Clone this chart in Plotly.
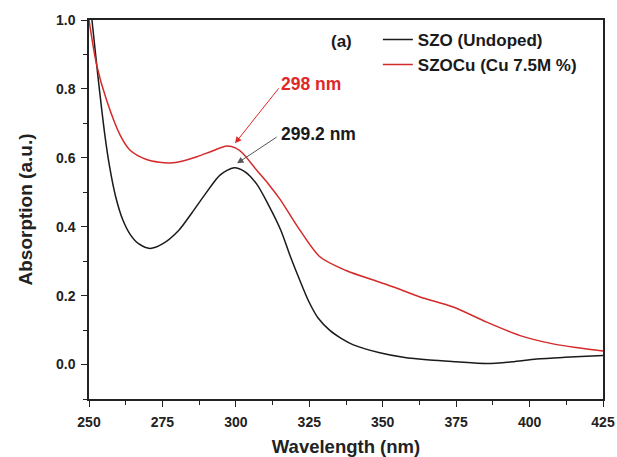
import plotly.graph_objects as go

# SZO (Undoped)
szo_wl = [251, 253, 255.4, 257, 259, 261.5, 264, 267, 270.8, 275, 280.6, 285, 289.7, 294.6, 299.4,
          303, 307, 311, 315.3, 318.5, 321.8, 325, 328, 332, 336, 340, 349, 357, 366, 375, 385.4, 394, 402.4, 412, 425]
szo_ab = [1.0, 0.84, 0.666, 0.575, 0.49, 0.42, 0.378, 0.35, 0.337, 0.35, 0.39, 0.44, 0.496, 0.55, 0.571,
          0.56, 0.525, 0.465, 0.39, 0.315, 0.244, 0.18, 0.135, 0.099, 0.075, 0.057, 0.034, 0.021, 0.013, 0.008, 0.003, 0.008, 0.016, 0.021, 0.026]

# SZOCu (Cu 7.5M %)
cu_wl = [250, 252.6, 256, 260.6, 264, 269.6, 274, 277.6, 282, 287, 292, 296.9, 300, 302.5,
         307.1, 311, 315, 321.8, 328.7, 337.5, 349, 356, 362.7, 374, 385.4, 396.8, 408, 417, 425]
cu_ab = [1.0, 0.87, 0.767, 0.666, 0.622, 0.595, 0.587, 0.585, 0.591, 0.604, 0.62, 0.634, 0.628, 0.612,
         0.564, 0.525, 0.48, 0.39, 0.312, 0.273, 0.239, 0.218, 0.196, 0.167, 0.123, 0.084, 0.06, 0.048, 0.039]

x_ticks = [250, 275, 300, 325, 350, 375, 400, 425]
y_ticks = [0.0, 0.2, 0.4, 0.6, 0.8, 1.0]

FONT = "Liberation Sans, Arial, sans-serif"

fig = go.Figure()
fig.add_trace(go.Scatter(x=szo_wl, y=szo_ab, mode="lines", name="<b>SZO (Undoped)</b>",
                         line=dict(color="#1a1a1a", width=1.5, shape="spline", smoothing=0.8)))
fig.add_trace(go.Scatter(x=cu_wl, y=cu_ab, mode="lines", name="<b>SZOCu (Cu 7.5M %)</b>",
                         line=dict(color="#d42a2a", width=1.5, shape="spline", smoothing=0.8)))

axis_common = dict(showline=True, linecolor="#222", linewidth=1.5, mirror=True,
                   ticks="outside", ticklen=6, tickwidth=1.3, tickcolor="#222",
                   showgrid=False, zeroline=False, automargin=False,
                   tickfont=dict(family=FONT, size=14, color="#222"))

fig.update_xaxes(range=[250, 425], tickvals=x_ticks, ticktext=[f"<b>{v}</b>" for v in x_ticks],
                 minor=dict(ticks="outside", ticklen=4, tickwidth=1.2, tickcolor="#222", dtick=12.5),
                 ticklabelstandoff=3,
                 title=dict(text="<b>Wavelength (nm)</b>", font=dict(family=FONT, size=18.5, color="#222"), standoff=12),
                 **axis_common)
fig.update_yaxes(range=[-0.1, 1.0], tickvals=y_ticks, ticktext=[f"<b>{v:.1f}</b>" for v in y_ticks],
                 minor=dict(ticks="outside", ticklen=4, tickwidth=1.2, tickcolor="#222", dtick=0.1, tick0=0),
                 ticklabelstandoff=3,
                 title=dict(text="<b>Absorption (a.u.)</b>", font=dict(family=FONT, size=19, color="#222"), standoff=18),
                 **axis_common)

fig.add_annotation(x=299.7, y=0.642, ax=315, ay=0.806, axref="x", ayref="y",
                   showarrow=True, arrowhead=2, arrowsize=1.3, arrowwidth=1, arrowcolor="#e02828", text="")
fig.add_annotation(x=300.4, y=0.584, ax=314.4, ay=0.663, axref="x", ayref="y",
                   showarrow=True, arrowhead=2, arrowsize=1.3, arrowwidth=1, arrowcolor="#555", text="")
fig.add_annotation(x=325.6, y=0.815, text="<b>298 nm</b>", showarrow=False,
                   font=dict(family=FONT, size=17.5, color="#e02828"))
fig.add_annotation(x=328.0, y=0.668, text="<b>299.2 nm</b>", showarrow=False,
                   font=dict(family=FONT, size=17.5, color="#1a1a1a"))
fig.add_annotation(x=335.8, y=0.939, text="<b>(a)</b>", showarrow=False,
                   font=dict(family=FONT, size=17, color="#1a1a1a"))

fig.update_layout(
    width=617, height=457,
    margin=dict(l=89, r=14, t=20, b=58),
    plot_bgcolor="white", paper_bgcolor="white",
    showlegend=True,
    legend=dict(x=0.562, y=0.995, xanchor="left", yanchor="top",
                bgcolor="rgba(0,0,0,0)", borderwidth=0,
                font=dict(family=FONT, size=17, color="#1a1a1a"),
                tracegroupgap=0),
)

fig.write_html("out.html")
